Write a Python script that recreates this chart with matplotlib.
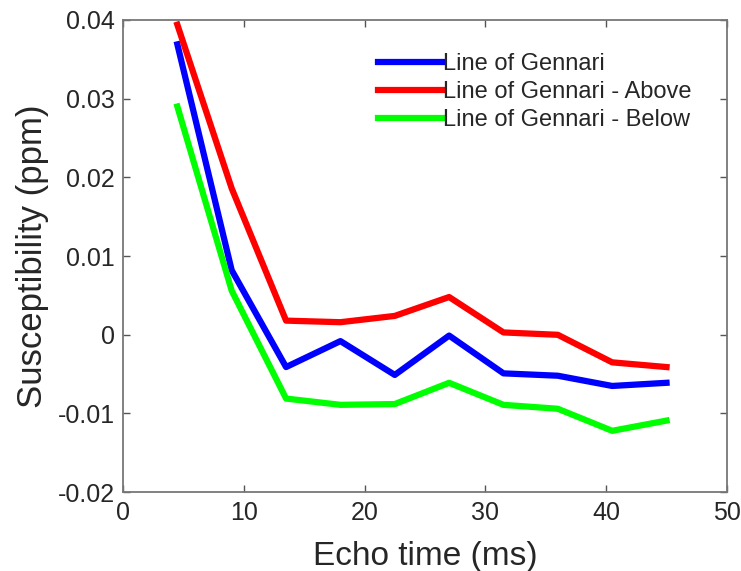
import matplotlib.pyplot as plt
from matplotlib.ticker import FixedLocator

plt.rcParams['font.family'] = ['Liberation Sans', 'DejaVu Sans']

echo_time = [4.5, 9, 13.5, 18, 22.5, 27, 31.5, 36, 40.5, 45]
gennari = [0.0369, 0.0082, -0.0041, -0.0008, -0.0051, -0.0001, -0.0049, -0.0052, -0.0065, -0.0061]
gennari_above = [0.0394, 0.0186, 0.0018, 0.0016, 0.0024, 0.0048, 0.0003, 0.0000, -0.0035, -0.0041]
gennari_below = [0.0290, 0.0056, -0.0081, -0.0089, -0.0088, -0.0061, -0.0089, -0.0094, -0.0122, -0.0109]

x_ticks = [0, 10, 20, 30, 40, 50]
y_ticks = [-0.02, -0.01, 0, 0.01, 0.02, 0.03, 0.04]
y_tick_labels = ['-0.02', '-0.01', '0', '0.01', '0.02', '0.03', '0.04']

fig = plt.figure(figsize=(7.41, 5.71), dpi=100)
ax = fig.add_axes([0.166, 0.138, 0.815, 0.827])

lw = 4.5
ax.plot(echo_time, gennari, color='#0000ff', lw=lw, label='Line of Gennari')
ax.plot(echo_time, gennari_above, color='#ff0000', lw=lw, label='Line of Gennari - Above')
ax.plot(echo_time, gennari_below, color='#00ff00', lw=lw, label='Line of Gennari - Below')

ax.set_xlim(0, 50)
ax.set_ylim(-0.02, 0.04)
ax.xaxis.set_major_locator(FixedLocator(x_ticks))
ax.set_yticks(y_ticks)
ax.set_yticklabels(y_tick_labels)

for s in ax.spines.values():
    s.set_color('#777777')
    s.set_linewidth(1.3)
ax.tick_params(direction='in', top=True, right=True, length=5, width=1,
               colors='#555555', labelcolor='#262626', labelsize=18, pad=6)

ax.set_xlabel('Echo time (ms)', fontsize=24, color='#262626', labelpad=12)
ax.set_ylabel('Susceptibility (ppm)', fontsize=25, color='#262626', labelpad=6)

leg = ax.legend(loc='upper left', bbox_to_anchor=(0.422, 0.93), frameon=False,
                fontsize=17, handlelength=2.7, handletextpad=0.05,
                labelspacing=0.25, borderpad=0, borderaxespad=0)
for t in leg.get_texts():
    t.set_color('#262626')

fig.savefig('out.png', dpi=100)
